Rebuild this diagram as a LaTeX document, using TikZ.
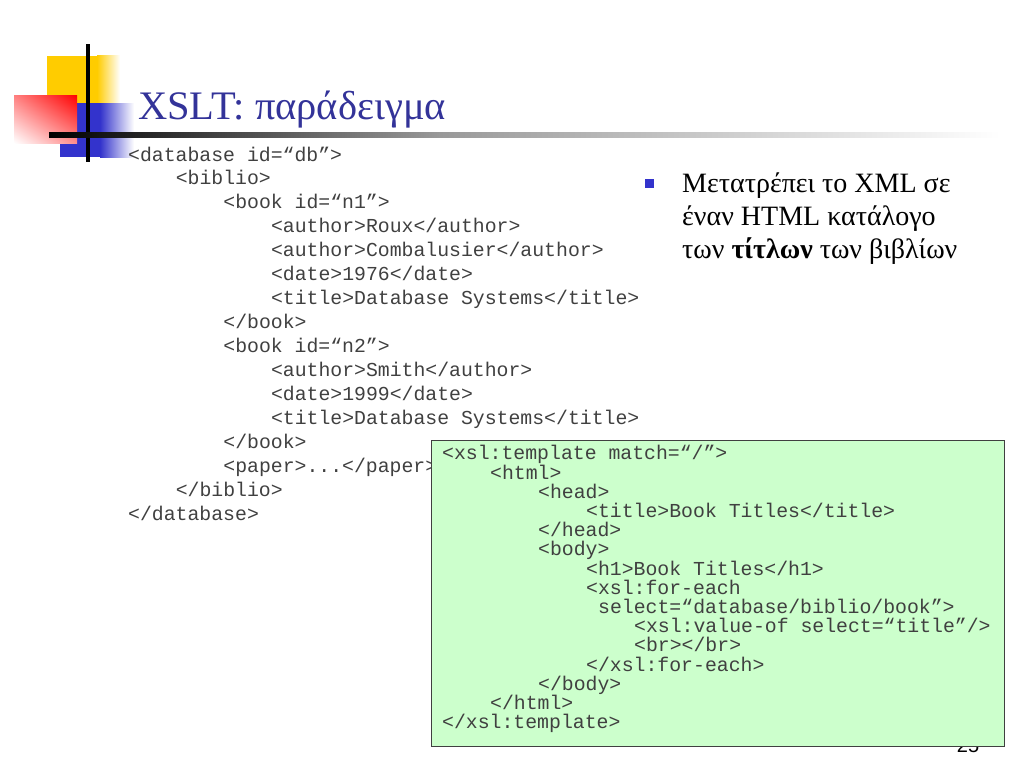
\documentclass[tikz,border=0pt]{standalone}
\usepackage{fontspec}
\setmainfont{Liberation Serif}
\setmonofont{Liberation Mono}
\newfontfamily\pagefont{Liberation Sans}
\usetikzlibrary{positioning,shadings}
\definecolor{titleblue}{RGB}{51,51,153}
\definecolor{logoyellow}{RGB}{255,204,0}
\definecolor{logoblue}{RGB}{51,51,204}
\definecolor{boxgreen}{RGB}{204,255,204}

\begin{document}
\begin{tikzpicture}[x=1pt, y=-1pt,
    code/.style = {anchor=base west, inner sep=0pt, text=black!75,% one line of xml code
                   font=\ttfamily\fontsize{19.8}{24}\selectfont},
    btext/.style = {anchor=base west, inner sep=0pt,% lines of the bullet
                   font=\fontsize{28}{33}\selectfont},
    xslbox/.style = {draw=black!75, fill=boxgreen, line width=0.8pt},
                        ]
\useasboundingbox (0,0) rectangle (1024,768);
% logo
\fill[logoyellow] (47,56) rectangle (97,103);
\shade[left color=logoyellow, right color=white] (97,56) rectangle (120,103);
\fill[logoblue] (60,103) rectangle (100,157);
\shade[left color=logoblue, right color=white] (100,103) rectangle (134,157);
\shade[upper right=red, upper left=red!50!white,
       lower left=white, lower right=red!45!white] (14,95) rectangle (77,143);
\fill[black] (86,44) rectangle (89.5,162);
\shade[left color=black, right color=black!40] (49,132) rectangle (440,137);
\shade[left color=black!40, right color=white] (440,132) rectangle (1000,137);
% title
\node[anchor=base west, inner sep=0pt, text=titleblue,
      font=\fontsize{40.5}{48}\selectfont] (title) at (138,119) {XSLT: παράδειγμα};
% xml document
\foreach \l/\t [count=\k from 0] in {0/{<database id=“db”>}, 1/{<biblio>},
    2/{<book id=“n1”>}, 3/{<author>Roux</author>}, 3/{<author>Combalusier</author>},
    3/{<date>1976</date>}, 3/{<title>Database Systems</title>}, 2/{</book>},
    2/{<book id=“n2”>}, 3/{<author>Smith</author>}, 3/{<date>1999</date>},
    3/{<title>Database Systems</title>}, 2/{</book>}, 2/{<paper>...</paper>},
    1/{</biblio>}, 0/{</database>}}
    \node[code] (c\k) at (128+47.6*\l, 161+23.95*\k) {\t};
% bullet
\fill[logoblue] (645,179) rectangle (654,188);
\foreach \t [count=\k from 0] in {Μετατρέπει το XML σε, έναν HTML κατάλογο,
    {των \textbf{τίτλων} των βιβλίων}}
    \node[btext] (b\k) at (682, 192+33*\k) {\t};
% page number, partly hidden by the box
\node[anchor=base, inner sep=0pt, font=\pagefont\fontsize{20}{24}\selectfont]
    (page) at (968,752) {25};
% xsl template
\draw[xslbox] (431,440) rectangle (1004,746);
\foreach \l/\t [count=\k from 0] in {0/{<xsl:template match=“/”>}, 1/{<html>},
    2/{<head>}, 3/{<title>Book Titles</title>}, 2/{</head>}, 2/{<body>},
    3/{<h1>Book Titles</h1>}, 3/{<xsl:for-each}, 3.25/{select=“database/biblio/book”>},
    4/{<xsl:value-of select=“title”/>}, 4/{<br></br>}, 3/{</xsl:for-each>},
    2/{</body>}, 1/{</html>}, 0/{</xsl:template>}}
    \node[code] (x\k) at (442+48*\l, 459.8+19.2*\k) {\t};
\end{tikzpicture}
\end{document}
